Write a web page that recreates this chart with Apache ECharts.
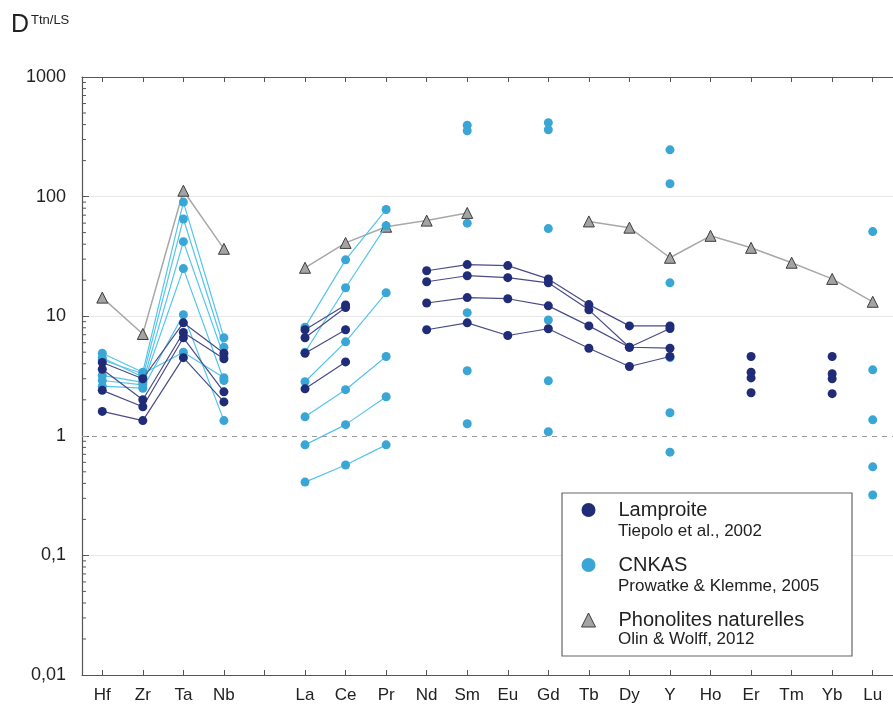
<!DOCTYPE html>
<html>
<head>
<meta charset="utf-8">
<script src="https://cdn.jsdelivr.net/npm/echarts@6/dist/echarts.min.js"></script>
<style>
html,body{margin:0;padding:0;background:#fff;}
#chart{width:893px;height:716px;}
</style>
</head>
<body>
<div id="chart"></div>
<script>
// Categories (blank slot between Nb and La)
const categories = ['Hf','Zr','Ta','Nb','','La','Ce','Pr','Nd','Sm','Eu','Gd','Tb','Dy','Y','Ho','Er','Tm','Yb','Lu'];

// Lamproite (Tiepolo et al., 2002)
const lamp1 = [4.1, 3.0, 8.8, 4.9, null, 7.7, 12.4, null, 24.0, 27.0, 26.5, 20.5, 12.5, 8.3, 8.3, null, 4.6, null, 4.6, null];
const lamp2 = [3.6, 2.0, 7.3, 4.4, null, 6.6, 11.8, null, 19.4, 21.8, 21.0, 19.0, 11.3, 5.5, 7.9, null, 3.4, null, 3.3, null];
const lamp3 = [2.4, 1.75, 6.6, 2.33, null, 4.9, 7.7, null, 12.9, 14.3, 14.0, 12.2, 8.3, 5.5, 5.4, null, 3.05, null, 3.0, null];
const lamp4 = [1.6, 1.34, 4.5, 1.92, null, 2.47, 4.15, null, 7.7, 8.8, 6.9, 7.85, 5.4, 3.8, 4.6, null, 2.29, null, 2.25, null];

// CNKAS (Prowatke & Klemme, 2005)
const cnk1 = [4.9, 3.4, 90, 6.6, null, 8.1, 29.6, 78, null, 395, null, 415, null, null, 246, null, null, null, null, 51];
const cnk2 = [4.5, 3.1, 65, 5.5, null, 5.0, 17.3, 57, null, 355, null, 362, null, null, 128, null, null, null, null, 3.56];
const cnk3 = [3.2, 2.8, 42, 4.6, null, 2.83, 6.1, 15.7, null, 60, null, 54, null, null, 19, null, null, null, null, 1.36];
const cnk4 = [2.9, 2.67, 25, 2.9, null, 1.44, 2.43, 4.6, null, 10.7, null, 9.3, null, null, 4.5, null, null, null, null, 0.55];
const cnk5 = [2.6, 2.5, 10.3, 1.34, null, 0.84, 1.24, 2.12, null, 3.5, null, 2.88, null, null, 1.56, null, null, null, null, 0.32];
const cnk6 = [4.3, 3.3, 5.0, 3.06, null, 0.41, 0.57, 0.84, null, 1.26, null, 1.08, null, null, 0.73, null, null, null, null, null];

// Phonolites naturelles (Olin & Wolff, 2012)
const phono = [14.3, 7.1, 112, 36.6, null, 25.4, 41, 56, 63, 73, null, null, 62, 55, 30.8, 47, 37.3, 28, 20.5, 13.2];

// Y axis tick labels (decades 0.01 .. 1000)
const yTickLabels = ['0,01','0,1','1','10','100','1000'];
// Minor log ticks
const yMinorTicks = [0.02,0.03,0.04,0.05,0.06,0.07,0.08,0.09,
  0.2,0.3,0.4,0.5,0.6,0.7,0.8,0.9,
  2,3,4,5,6,7,8,9,
  20,30,40,50,60,70,80,90,
  200,300,400,500,600,700,800,900];

const legendNames = ['Lamproite','CNKAS','Phonolites naturelles'];
const citations = ['Tiepolo et al., 2002','Prowatke & Klemme, 2005','Olin & Wolff, 2012'];

const FONT = '"Liberation Sans", Arial, sans-serif';
const LAMP_COLOR = '#202c78';
const LAMP_LINE = '#4a4c86';
const CNK_COLOR = '#3aa6d6';
const CNK_LINE = '#55c4ec';

function lampSeries(d){
  return {name:'Lamproite', type:'line', data:d, symbol:'circle', symbolSize:9,
    itemStyle:{color:LAMP_COLOR}, lineStyle:{color:LAMP_LINE, width:1.2},
    z:4, animation:false, connectNulls:false};
}
function cnkSeries(d){
  return {name:'CNKAS', type:'line', data:d, symbol:'circle', symbolSize:9,
    itemStyle:{color:CNK_COLOR}, lineStyle:{color:CNK_LINE, width:1.2},
    z:3, animation:false, connectNulls:false};
}

const chart = echarts.init(document.getElementById('chart'), null, {renderer:'canvas'});

const series = [
  {name:'Phonolites naturelles', type:'line', data:phono, symbol:'triangle', symbolSize:11,
    itemStyle:{color:'#a3a3a3', borderColor:'#3c3c3c', borderWidth:1},
    lineStyle:{color:'#a8a8a8', width:1.5}, z:2, animation:false, connectNulls:false,
    markLine:{silent:true, symbol:'none', label:{show:false},
      lineStyle:{color:'#9a9a9a', type:[5,5], width:1.2},
      data:[{yAxis:1}]}},
  cnkSeries(cnk1), cnkSeries(cnk2), cnkSeries(cnk3), cnkSeries(cnk4), cnkSeries(cnk5), cnkSeries(cnk6),
  lampSeries(lamp1), lampSeries(lamp2), lampSeries(lamp3), lampSeries(lamp4),
  {type:'custom', silent:true, animation:false, clip:false, z:5,
    data: yMinorTicks.map(v => [0, v]),
    renderItem: function(params, api){
      const p = api.coord([api.value(0), api.value(1)]);
      const x0 = params.coordSys.x;
      return {type:'line', shape:{x1:x0, y1:p[1], x2:x0+4, y2:p[1]}, style:{stroke:'#555', lineWidth:1}};
    }}
];

const option = {
  backgroundColor:'#fff',
  animation:false,
  textStyle:{fontFamily:FONT},
  grid:{left:82, top:77, width:820, height:598, containLabel:false},
  xAxis:[
    {type:'category', data:categories, position:'bottom', boundaryGap:true,
      axisLine:{show:true, lineStyle:{color:'#555', width:1.2}},
      axisTick:{show:true, inside:true, alignWithLabel:true, length:5, lineStyle:{color:'#555'}},
      axisLabel:{show:true, color:'#222', fontSize:17, fontFamily:FONT, margin:12, interval:0},
      splitLine:{show:false}},
    {type:'category', data:categories, position:'top', boundaryGap:true,
      axisLine:{show:true, lineStyle:{color:'#555', width:1.2}},
      axisTick:{show:true, inside:true, alignWithLabel:true, length:5, lineStyle:{color:'#555'}},
      axisLabel:{show:false}, splitLine:{show:false}}
  ],
  yAxis:{type:'log', logBase:10, min:0.01, max:1000,
    axisLine:{show:true, lineStyle:{color:'#555', width:1.2}},
    axisTick:{show:true, inside:true, length:7, lineStyle:{color:'#555'}},
    axisLabel:{color:'#222', fontSize:18, fontFamily:FONT, margin:16,
      formatter: function(v){ const i = Math.round(Math.log10(v)) + 2; return yTickLabels[i] || ''; }},
    splitLine:{show:true, lineStyle:{color:['rgba(0,0,0,0)','#e8e8e8','rgba(0,0,0,0)','#e8e8e8','#e8e8e8','rgba(0,0,0,0)'], width:1}}
  },
  legend:{
    show:true, orient:'vertical', left:581, top:500, padding:0,
    itemGap:35, itemWidth:14, itemHeight:14, z:20,
    data:[{name:'Lamproite', icon:'circle', itemStyle:{color:LAMP_COLOR}},
          {name:'CNKAS', icon:'circle', itemStyle:{color:CNK_COLOR}},
          {name:'Phonolites naturelles', icon:'triangle', itemStyle:{color:'#a3a3a3', borderColor:'#3c3c3c', borderWidth:1}}],
    textStyle:{fontSize:20, color:'#222', fontFamily:FONT, lineHeight:20, padding:[0,0,0,18]},
    selectedMode:false
  },
  graphic:[
    {type:'rect', z:15, shape:{x:562, y:493, width:290, height:163},
      style:{fill:'#fff', stroke:'#666', lineWidth:1.2}},
    {type:'text', z:25, x:618, y:531, style:{text:citations[0], fill:'#222', font:'17px ' + FONT, verticalAlign:'middle'}},
    {type:'text', z:25, x:618, y:586, style:{text:citations[1], fill:'#222', font:'17px ' + FONT, verticalAlign:'middle'}},
    {type:'text', z:25, x:618, y:639, style:{text:citations[2], fill:'#222', font:'17px ' + FONT, verticalAlign:'middle'}},
    {type:'text', z:25, x:11, y:13, style:{text:'D', fill:'#222', font:'25px ' + FONT}},
    {type:'text', z:25, x:31, y:14, style:{text:'Ttn/LS', fill:'#222', font:'13px ' + FONT}}
  ],
  series: series
};
chart.setOption(option);
</script>
</body>
</html>
